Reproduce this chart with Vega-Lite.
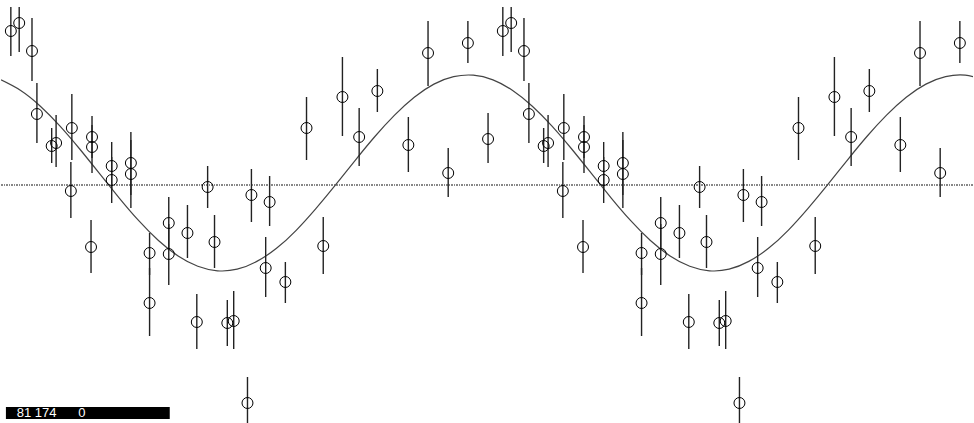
{
  "$schema": "https://vega.github.io/schema/vega-lite/v6.json",
  "autosize": {"type": "fit", "contains": "padding"},
  "width": 974,
  "height": 423,
  "padding": 0,
  "background": "white",
  "config": {"view": {"stroke": null}},
  "datasets": {
    "zero": [{"level": 0}],
    "obs": [
      {"phase": 0.020, "v": 1.54, "hi": 1.78, "lo": 1.29},
      {"phase": 0.037, "v": 1.62, "hi": 1.78, "lo": 1.33},
      {"phase": 0.063, "v": 1.34, "hi": 1.67, "lo": 1.04},
      {"phase": 0.073, "v": 0.71, "hi": 1.02, "lo": 0.42},
      {"phase": 0.103, "v": 0.39, "hi": 0.57, "lo": 0.22},
      {"phase": 0.112, "v": 0.42, "hi": 0.70, "lo": 0.18},
      {"phase": 0.144, "v": 0.57, "hi": 0.91, "lo": 0.25},
      {"phase": 0.142, "v": -0.06, "hi": 0.23, "lo": -0.33},
      {"phase": 0.185, "v": 0.48, "hi": 0.69, "lo": 0.27},
      {"phase": 0.185, "v": 0.38, "hi": 0.60, "lo": 0.12},
      {"phase": 0.183, "v": -0.62, "hi": -0.35, "lo": -0.88},
      {"phase": 0.225, "v": 0.19, "hi": 0.43, "lo": -0.05},
      {"phase": 0.225, "v": 0.05, "hi": 0.28, "lo": -0.18},
      {"phase": 0.264, "v": 0.22, "hi": 0.53, "lo": -0.10},
      {"phase": 0.264, "v": 0.11, "hi": 0.45, "lo": -0.23},
      {"phase": 0.302, "v": -0.68, "hi": -0.48, "lo": -0.90},
      {"phase": 0.302, "v": -1.18, "hi": -0.83, "lo": -1.51},
      {"phase": 0.341, "v": -0.38, "hi": -0.12, "lo": -0.65},
      {"phase": 0.341, "v": -0.69, "hi": -0.39, "lo": -1.00},
      {"phase": 0.379, "v": -0.48, "hi": -0.20, "lo": -0.73},
      {"phase": 0.398, "v": -1.37, "hi": -1.09, "lo": -1.64},
      {"phase": 0.420, "v": -0.02, "hi": 0.19, "lo": -0.23},
      {"phase": 0.434, "v": -0.57, "hi": -0.30, "lo": -0.83},
      {"phase": 0.460, "v": -1.38, "hi": -1.15, "lo": -1.61},
      {"phase": 0.473, "v": -1.36, "hi": -1.06, "lo": -1.64},
      {"phase": 0.501, "v": -2.18, "hi": -1.92, "lo": -2.44},
      {"phase": 0.509, "v": -0.10, "hi": 0.16, "lo": -0.37},
      {"phase": 0.538, "v": -0.83, "hi": -0.52, "lo": -1.12},
      {"phase": 0.546, "v": -0.17, "hi": 0.09, "lo": -0.41},
      {"phase": 0.578, "v": -0.97, "hi": -0.77, "lo": -1.18},
      {"phase": 0.621, "v": 0.57, "hi": 0.88, "lo": 0.25},
      {"phase": 0.655, "v": -0.61, "hi": -0.32, "lo": -0.89},
      {"phase": 0.694, "v": 0.88, "hi": 1.28, "lo": 0.49},
      {"phase": 0.728, "v": 0.48, "hi": 0.77, "lo": 0.19},
      {"phase": 0.765, "v": 0.94, "hi": 1.16, "lo": 0.73},
      {"phase": 0.828, "v": 0.40, "hi": 0.68, "lo": 0.13},
      {"phase": 0.868, "v": 1.32, "hi": 1.64, "lo": 0.99},
      {"phase": 0.909, "v": 0.12, "hi": 0.37, "lo": -0.12},
      {"phase": 0.949, "v": 1.42, "hi": 1.64, "lo": 1.22},
      {"phase": 0.990, "v": 0.46, "hi": 0.72, "lo": 0.22},
      {"phase": 1.020, "v": 1.54, "hi": 1.78, "lo": 1.29},
      {"phase": 1.037, "v": 1.62, "hi": 1.78, "lo": 1.33},
      {"phase": 1.063, "v": 1.34, "hi": 1.67, "lo": 1.04},
      {"phase": 1.073, "v": 0.71, "hi": 1.02, "lo": 0.42},
      {"phase": 1.103, "v": 0.39, "hi": 0.57, "lo": 0.22},
      {"phase": 1.112, "v": 0.42, "hi": 0.70, "lo": 0.18},
      {"phase": 1.144, "v": 0.57, "hi": 0.91, "lo": 0.25},
      {"phase": 1.142, "v": -0.06, "hi": 0.23, "lo": -0.33},
      {"phase": 1.185, "v": 0.48, "hi": 0.69, "lo": 0.27},
      {"phase": 1.185, "v": 0.38, "hi": 0.60, "lo": 0.12},
      {"phase": 1.183, "v": -0.62, "hi": -0.35, "lo": -0.88},
      {"phase": 1.225, "v": 0.19, "hi": 0.43, "lo": -0.05},
      {"phase": 1.225, "v": 0.05, "hi": 0.28, "lo": -0.18},
      {"phase": 1.264, "v": 0.22, "hi": 0.53, "lo": -0.10},
      {"phase": 1.264, "v": 0.11, "hi": 0.45, "lo": -0.23},
      {"phase": 1.302, "v": -0.68, "hi": -0.48, "lo": -0.90},
      {"phase": 1.302, "v": -1.18, "hi": -0.83, "lo": -1.51},
      {"phase": 1.341, "v": -0.38, "hi": -0.12, "lo": -0.65},
      {"phase": 1.341, "v": -0.69, "hi": -0.39, "lo": -1.00},
      {"phase": 1.379, "v": -0.48, "hi": -0.20, "lo": -0.73},
      {"phase": 1.398, "v": -1.37, "hi": -1.09, "lo": -1.64},
      {"phase": 1.420, "v": -0.02, "hi": 0.19, "lo": -0.23},
      {"phase": 1.434, "v": -0.57, "hi": -0.30, "lo": -0.83},
      {"phase": 1.460, "v": -1.38, "hi": -1.15, "lo": -1.61},
      {"phase": 1.473, "v": -1.36, "hi": -1.06, "lo": -1.64},
      {"phase": 1.501, "v": -2.18, "hi": -1.92, "lo": -2.44},
      {"phase": 1.509, "v": -0.10, "hi": 0.16, "lo": -0.37},
      {"phase": 1.538, "v": -0.83, "hi": -0.52, "lo": -1.12},
      {"phase": 1.546, "v": -0.17, "hi": 0.09, "lo": -0.41},
      {"phase": 1.578, "v": -0.97, "hi": -0.77, "lo": -1.18},
      {"phase": 1.621, "v": 0.57, "hi": 0.88, "lo": 0.25},
      {"phase": 1.655, "v": -0.61, "hi": -0.32, "lo": -0.89},
      {"phase": 1.694, "v": 0.88, "hi": 1.28, "lo": 0.49},
      {"phase": 1.728, "v": 0.48, "hi": 0.77, "lo": 0.19},
      {"phase": 1.765, "v": 0.94, "hi": 1.16, "lo": 0.73},
      {"phase": 1.828, "v": 0.40, "hi": 0.68, "lo": 0.13},
      {"phase": 1.868, "v": 1.32, "hi": 1.64, "lo": 0.99},
      {"phase": 1.909, "v": 0.12, "hi": 0.37, "lo": -0.12},
      {"phase": 1.949, "v": 1.42, "hi": 1.64, "lo": 1.22},
      {"phase": 1.990, "v": 0.46, "hi": 0.72, "lo": 0.22}
    ],
    "fit": [
      {"phase": 0.00, "v": 1.051}, {"phase": 0.04, "v": 0.945}, {"phase": 0.08, "v": 0.788},
      {"phase": 0.12, "v": 0.589}, {"phase": 0.16, "v": 0.360}, {"phase": 0.20, "v": 0.116},
      {"phase": 0.24, "v": -0.128}, {"phase": 0.28, "v": -0.357}, {"phase": 0.32, "v": -0.555},
      {"phase": 0.36, "v": -0.710}, {"phase": 0.40, "v": -0.813}, {"phase": 0.44, "v": -0.858},
      {"phase": 0.48, "v": -0.842}, {"phase": 0.52, "v": -0.764}, {"phase": 0.56, "v": -0.633},
      {"phase": 0.60, "v": -0.453}, {"phase": 0.64, "v": -0.236}, {"phase": 0.68, "v": 0.001},
      {"phase": 0.72, "v": 0.247}, {"phase": 0.76, "v": 0.485}, {"phase": 0.80, "v": 0.699},
      {"phase": 0.84, "v": 0.878}, {"phase": 0.88, "v": 1.009}, {"phase": 0.92, "v": 1.083},
      {"phase": 0.96, "v": 1.098},
      {"phase": 1.00, "v": 1.051}, {"phase": 1.04, "v": 0.945}, {"phase": 1.08, "v": 0.788},
      {"phase": 1.12, "v": 0.589}, {"phase": 1.16, "v": 0.360}, {"phase": 1.20, "v": 0.116},
      {"phase": 1.24, "v": -0.128}, {"phase": 1.28, "v": -0.357}, {"phase": 1.32, "v": -0.555},
      {"phase": 1.36, "v": -0.710}, {"phase": 1.40, "v": -0.813}, {"phase": 1.44, "v": -0.858},
      {"phase": 1.48, "v": -0.842}, {"phase": 1.52, "v": -0.764}, {"phase": 1.56, "v": -0.633},
      {"phase": 1.60, "v": -0.453}, {"phase": 1.64, "v": -0.236}, {"phase": 1.68, "v": 0.001},
      {"phase": 1.72, "v": 0.247}, {"phase": 1.76, "v": 0.485}, {"phase": 1.80, "v": 0.699},
      {"phase": 1.84, "v": 0.878}, {"phase": 1.88, "v": 1.009}, {"phase": 1.92, "v": 1.083},
      {"phase": 1.96, "v": 1.098}, {"phase": 2.00, "v": 1.051}
    ],
    "box": [
      {"x1": 0.010, "x2": 0.343, "y1": -2.22, "y2": -2.34, "tx": 0.032, "ty": -2.283, "label": "81 174\u00a0\u00a0\u00a0\u00a0\u00a0\u00a00"}
    ]
  },
  "encoding": {
    "x": {"field": "phase", "type": "quantitative", "scale": {"domain": [0, 1.9757], "nice": false, "zero": false}, "axis": null}
  },
  "layer": [
    {
      "data": {"name": "zero"},
      "mark": {"type": "rule", "color": "#111", "strokeWidth": 1, "strokeDash": [2, 1, 1, 1]},
      "encoding": {"x": null, "y": {"field": "level", "type": "quantitative", "scale": {"domain": [-2.38, 1.85], "nice": false, "zero": false}, "axis": null}}
    },
    {
      "data": {"name": "fit"},
      "mark": {"type": "line", "interpolate": "natural", "color": "#444", "strokeWidth": 1.2, "clip": true},
      "encoding": {"y": {"field": "v", "type": "quantitative", "scale": {"domain": [-2.38, 1.85], "nice": false, "zero": false}, "axis": null}}
    },
    {
      "data": {"name": "obs"},
      "mark": {"type": "rule", "color": "#222", "strokeWidth": 1.4, "clip": true},
      "encoding": {
        "y": {"field": "hi", "type": "quantitative", "scale": {"domain": [-2.38, 1.85], "nice": false, "zero": false}, "axis": null},
        "y2": {"field": "lo"}
      }
    },
    {
      "data": {"name": "obs"},
      "mark": {"type": "point", "shape": "circle", "filled": false, "size": 120, "color": "#000", "strokeWidth": 1, "opacity": 1, "clip": true},
      "encoding": {"y": {"field": "v", "type": "quantitative", "scale": {"domain": [-2.38, 1.85], "nice": false, "zero": false}, "axis": null}}
    },
    {
      "data": {"name": "box"},
      "mark": {"type": "rect", "color": "#000"},
      "encoding": {
        "x": {"field": "x1", "type": "quantitative"},
        "x2": {"field": "x2"},
        "y": {"field": "y1", "type": "quantitative", "scale": {"domain": [-2.38, 1.85], "nice": false, "zero": false}, "axis": null},
        "y2": {"field": "y2"}
      }
    },
    {
      "data": {"name": "box"},
      "mark": {"type": "text", "color": "white", "align": "left", "baseline": "middle", "font": "Liberation Sans", "fontSize": 13},
      "encoding": {
        "x": {"field": "tx", "type": "quantitative"},
        "y": {"field": "ty", "type": "quantitative", "scale": {"domain": [-2.38, 1.85], "nice": false, "zero": false}, "axis": null},
        "text": {"field": "label"}
      }
    }
  ]
}
